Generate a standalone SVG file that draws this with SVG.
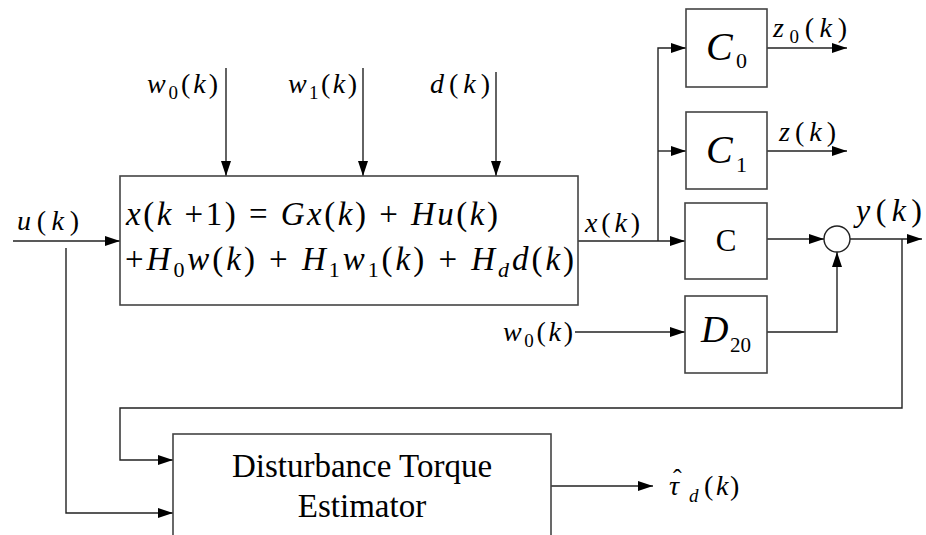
<svg xmlns="http://www.w3.org/2000/svg" width="926" height="535" viewBox="0 0 926 535">
<style>
text { font-family: "Liberation Serif", "Times New Roman", serif; fill: #000; }
.i { font-style: italic; }
.eq { font-size: 33px; }
.lbl { font-size: 28px; }
.sub { font-size: 19px; font-style: normal; }
.sub.i { font-style: italic; }
.box { fill: #fff; stroke: #444; stroke-width: 1.6; }
.ln { fill: none; stroke: #222; stroke-width: 1.4; }
</style>
<defs>
<marker id="ah" markerUnits="userSpaceOnUse" markerWidth="16" markerHeight="12" refX="15" refY="5" orient="auto">
<path d="M0,0 L15,5 L0,10 z" fill="#000"/>
</marker>
</defs>
<rect width="926" height="535" fill="#fff"/>
<g id="connectors">
<path class="ln" d="M226,68 V176" marker-end="url(#ah)"/>
<path class="ln" d="M363,68 V176" marker-end="url(#ah)"/>
<path class="ln" d="M496,72 V176" marker-end="url(#ah)"/>
<path class="ln" d="M13,241 H120" marker-end="url(#ah)"/>
<path class="ln" d="M66,248 V513 H173" marker-end="url(#ah)"/>
<path class="ln" d="M578,241 H685" marker-end="url(#ah)"/>
<path class="ln" d="M658,241 V48 H686" marker-end="url(#ah)"/>
<path class="ln" d="M658,151 H686" marker-end="url(#ah)"/>
<path class="ln" d="M767,48 H847" marker-end="url(#ah)"/>
<path class="ln" d="M767,151 H847" marker-end="url(#ah)"/>
<path class="ln" d="M767,239 H824" marker-end="url(#ah)"/>
<path class="ln" d="M850,239 H922" marker-end="url(#ah)"/>
<path class="ln" d="M767,332 H837 V252" marker-end="url(#ah)"/>
<path class="ln" d="M575,332 H685" marker-end="url(#ah)"/>
<path class="ln" d="M902,239 V408 H120 V460 H173" marker-end="url(#ah)"/>
<path class="ln" d="M551,486 H653" marker-end="url(#ah)"/>
</g>
<g id="labels">
<text class="lbl" x="147" y="93" textLength="71"><tspan class="i">w</tspan><tspan class="sub" dy="6">0</tspan><tspan dy="-6">(</tspan><tspan class="i">k</tspan>)</text>
<text class="lbl" x="288" y="93" textLength="69"><tspan class="i">w</tspan><tspan class="sub" dy="6">1</tspan><tspan dy="-6">(</tspan><tspan class="i">k</tspan>)</text>
<text class="lbl" x="430" y="93" textLength="60"><tspan class="i">d</tspan>(<tspan class="i">k</tspan>)</text>
<text class="lbl" x="17" y="230" textLength="62"><tspan class="i">u</tspan>(<tspan class="i">k</tspan>)</text>
<text class="lbl" x="585" y="232" textLength="55"><tspan class="i">x</tspan>(<tspan class="i">k</tspan>)</text>
<text class="lbl" x="773" y="37" textLength="74"><tspan class="i">z</tspan><tspan class="sub" dy="6">0</tspan><tspan dy="-6">(</tspan><tspan class="i">k</tspan>)</text>
<text class="lbl" x="779" y="141" textLength="57"><tspan class="i">z</tspan>(<tspan class="i">k</tspan>)</text>
<text x="856" y="221" style="font-size:32px" textLength="66"><tspan class="i">y</tspan>(<tspan class="i">k</tspan>)</text>
<text class="lbl" x="503" y="341" textLength="70"><tspan class="i">w</tspan><tspan class="sub" dy="6">0</tspan><tspan dy="-6">(</tspan><tspan class="i">k</tspan>)</text>
<text class="lbl" x="669" y="495"><tspan class="i">τ</tspan><tspan class="sub i" x="689" dy="7">d</tspan><tspan x="704" dy="-7">(</tspan><tspan class="i" x="716">k</tspan><tspan x="730">)</tspan></text>
<text x="673" y="487" style="font-size:26px">ˆ</text>
</g>
<g id="main">
<rect class="box" x="120" y="176" width="458" height="129"/>
<text class="eq" x="126" y="225" textLength="372" lengthAdjust="spacing"><tspan class="i">x</tspan>(<tspan class="i">k</tspan> +1) = <tspan class="i">Gx</tspan>(<tspan class="i">k</tspan>) + <tspan class="i">Hu</tspan>(<tspan class="i">k</tspan>)</text>
<text class="eq" x="125" y="270" textLength="449" lengthAdjust="spacing">+<tspan class="i">H</tspan><tspan class="sub" style="font-size:22px" dy="7">0</tspan><tspan class="i" dy="-7">w</tspan>(<tspan class="i">k</tspan>) + <tspan class="i">H</tspan><tspan class="sub" style="font-size:22px" dy="7">1</tspan><tspan class="i" dy="-7">w</tspan><tspan class="sub" style="font-size:22px" dy="7">1</tspan><tspan dy="-7">(</tspan><tspan class="i">k</tspan>) + <tspan class="i">H</tspan><tspan class="sub i" style="font-size:22px" dy="7">d</tspan><tspan class="i" dy="-7">d</tspan>(<tspan class="i">k</tspan>)</text>
</g>
<g id="C0">
<rect class="box" x="686" y="9" width="81" height="78"/>
<text x="706" y="60" style="font-size:40px" class="i">C</text>
<text x="736" y="68" style="font-size:22px">0</text>
</g>
<g id="C1">
<rect class="box" x="686" y="112" width="81" height="77"/>
<text x="706" y="163" style="font-size:40px" class="i">C</text>
<text x="736" y="172" style="font-size:22px">1</text>
</g>
<g id="C">
<rect class="box" x="685" y="203" width="82" height="76"/>
<text x="726" y="251" style="font-size:31px" text-anchor="middle">C</text>
</g>
<g id="D20">
<rect class="box" x="685" y="296" width="82" height="77"/>
<text x="701" y="342" style="font-size:38px" class="i">D</text>
<text x="730" y="352" style="font-size:21px">20</text>
</g>
<g id="sum">
<circle cx="837" cy="239" r="13" fill="#fff" stroke="#222" stroke-width="1.4"/>
</g>
<g id="estimator">
<rect class="box" x="173" y="434" width="378" height="120"/>
<text x="362" y="477" style="font-size:33px" text-anchor="middle">Disturbance Torque</text>
<text x="362" y="517" style="font-size:33px" text-anchor="middle">Estimator</text>
</g>
</svg>
